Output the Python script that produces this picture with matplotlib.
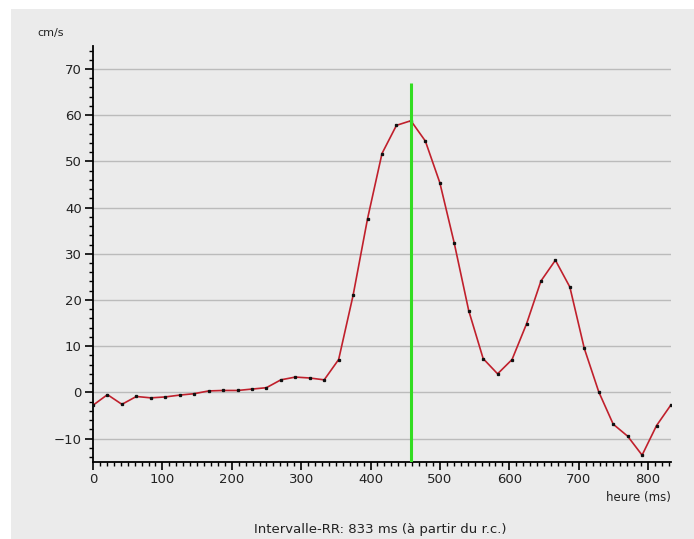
import numpy as np
import matplotlib
matplotlib.use("Agg")
import matplotlib.pyplot as plt
from matplotlib.ticker import MultipleLocator
from matplotlib.patches import Rectangle

# Doppler velocity samples over one RR interval (833 ms, 41 samples)
rr_ms = 833
velocity = [
    -2.8, -0.5, -2.6, -0.9, -1.2, -1.0, -0.6, -0.3, 0.3, 0.4,
    0.4, 0.7, 1.0, 2.7, 3.3, 3.1, 2.7, 7.1, 21.0, 37.6,
    51.7, 57.8, 58.8, 54.4, 45.4, 32.3, 17.7, 7.3, 4.0, 7.1,
    14.8, 24.1, 28.6, 22.8, 9.5, 0.1, -6.9, -9.5, -13.6, -7.2,
    -2.7,
]
time_ms = np.linspace(0, rr_ms, len(velocity))
marker_ms = 458          # vertical cursor position
marker_top = 67.0

x_ticks = [0, 100, 200, 300, 400, 500, 600, 700, 800]
y_ticks = [-10, 0, 10, 20, 30, 40, 50, 60, 70]

W, H = 694, 539
fig = plt.figure(figsize=(W / 100, H / 100), dpi=100, facecolor="white")
bg = "#ebebeb"
fig.patches.append(Rectangle((11 / W, 0), 1 - 11 / W, 1 - 9 / H,
                             transform=fig.transFigure, facecolor=bg,
                             edgecolor="none", zorder=-10))

left, right = 93 / W, 671 / W
bottom, top = (H - 461.6) / H, (H - 45.9) / H
ax = fig.add_axes([left, bottom, right - left, top - bottom])
ax.set_facecolor(bg)

ax.set_xlim(0, rr_ms)
ax.set_ylim(-15, 75)

for s in ("top", "right"):
    ax.spines[s].set_visible(False)
for s in ("left", "bottom"):
    ax.spines[s].set_linewidth(1.3)
    ax.spines[s].set_color("black")

ax.set_xticks(x_ticks)
ax.set_yticks(y_ticks)
ax.xaxis.set_minor_locator(MultipleLocator(10))
ax.yaxis.set_minor_locator(MultipleLocator(2))
ax.tick_params(which="major", direction="out", length=6, width=1.2,
               labelsize=9.5, pad=2, colors="black", labelcolor="#222222")
ax.tick_params(which="minor", direction="out", length=3, width=1.0,
               colors="black")

for yv in y_ticks:
    ax.axhline(yv, color="#bbbbbb", lw=1.0, zorder=1)

ax.plot(time_ms, velocity, color="#c0202c", lw=1.2, zorder=3,
        solid_joinstyle="round")
ax.plot(time_ms, velocity, ls="none", marker="s", ms=1.4,
        color="#111111", zorder=4)

ax.vlines(marker_ms, -15, marker_top, color="#33dd22", lw=2.2, zorder=5)

fig.text(37 / W, 1 - 33 / H, "cm/s", fontsize=8, color="#222222",
         ha="left", va="center")
fig.text(671 / W, 1 - 497 / H, "heure (ms)", fontsize=8.5, color="#222222",
         ha="right", va="center")
fig.text(380 / W, 1 - 530 / H,
         f"Intervalle-RR: {rr_ms} ms (à partir du r.c.)",
         fontsize=9.5, color="#222222", ha="center", va="center")

fig.savefig("out.png", dpi=100, facecolor="white")
